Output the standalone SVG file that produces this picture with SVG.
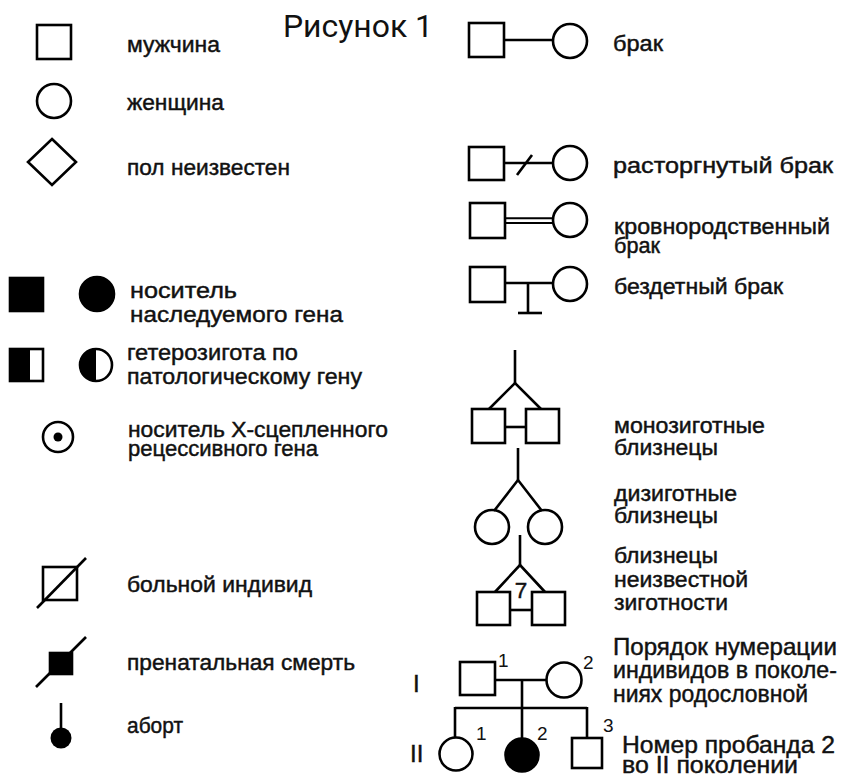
<svg xmlns="http://www.w3.org/2000/svg" width="841" height="777" viewBox="0 0 841 777">
<style>
.s{fill:none;stroke:#000;stroke-width:2.6}
.f{fill:#000;stroke:#000;stroke-width:2.6}
.l{stroke:#000;stroke-width:2.6;fill:none}
.t{font-family:"Liberation Sans",Arial,sans-serif;font-size:22.5px;fill:#111;stroke:#111;stroke-width:0.45}
.tb{font-family:"Liberation Sans",Arial,sans-serif;font-size:24px;fill:#111;stroke:#111;stroke-width:0.45}
.n{font-family:"Liberation Sans",Arial,sans-serif;font-size:19px;fill:#111}
.title{font-family:Roboto,"Noto Sans",sans-serif;font-size:31px;fill:#111}
</style>
<rect width="841" height="777" fill="#fff"/>
<text class="title" x="283" y="37" textLength="150" lengthAdjust="spacingAndGlyphs">Рисунок 1</text>

<g id="male"><rect class="s" x="37" y="25" width="34" height="34"/><text class="t" x="127" y="52" textLength="93" lengthAdjust="spacingAndGlyphs">мужчина</text></g>
<g id="female"><circle class="s" cx="54" cy="101" r="17"/><text class="t" x="127" y="110" textLength="97" lengthAdjust="spacingAndGlyphs">женщина</text></g>
<g id="unknown-sex"><polygon class="s" points="52,139 76,162 52,185 28,162"/><text class="t" x="127" y="175" textLength="163" lengthAdjust="spacingAndGlyphs">пол неизвестен</text></g>
<g id="carrier"><rect class="f" x="10" y="278" width="33" height="33"/><circle class="f" cx="97" cy="294" r="17"/><text class="t" x="130" y="298" textLength="107" lengthAdjust="spacingAndGlyphs">носитель</text><text class="t" x="130" y="322" textLength="213" lengthAdjust="spacingAndGlyphs">наследуемого гена</text></g>
<g id="heterozygote"><rect class="s" x="10" y="349" width="33" height="32"/><rect x="10" y="349" width="20" height="32" fill="#000"/><circle class="s" cx="96" cy="365" r="16"/><path d="M96,349 A16,16 0 0 0 96,381 Z" fill="#000"/><text class="t" x="127" y="360" textLength="171" lengthAdjust="spacingAndGlyphs">гетерозигота по</text><text class="t" x="127" y="384" textLength="235" lengthAdjust="spacingAndGlyphs">патологическому гену</text></g>
<g id="x-carrier"><circle class="s" cx="58" cy="437" r="15"/><circle cx="58" cy="437" r="4.5" fill="#000"/><text class="t" x="128" y="437" textLength="260" lengthAdjust="spacingAndGlyphs">носитель Х-сцепленного</text><text class="t" x="128" y="456" textLength="190" lengthAdjust="spacingAndGlyphs">рецессивного гена</text></g>
<g id="affected"><rect class="s" x="43" y="567" width="34" height="33"/><line class="l" x1="37" y1="608" x2="86" y2="558"/><text class="t" x="127" y="592" textLength="185" lengthAdjust="spacingAndGlyphs">больной индивид</text></g>
<g id="prenatal-death"><rect class="f" x="50" y="653" width="22" height="21"/><line class="l" x1="36" y1="687" x2="86" y2="637"/><text class="t" x="127" y="670" textLength="228" lengthAdjust="spacingAndGlyphs">пренатальная смерть</text></g>
<g id="abortion"><line class="l" x1="61" y1="703" x2="61" y2="730"/><circle cx="61" cy="738" r="10.5" fill="#000"/><text class="t" x="127" y="733" textLength="56" lengthAdjust="spacingAndGlyphs">аборт</text></g>

<g id="marriage"><rect class="s" x="469" y="23" width="35" height="34"/><line class="l" x1="504" y1="40" x2="553" y2="40"/><circle class="s" cx="570" cy="41" r="17"/><text class="t" x="613" y="51" textLength="50" lengthAdjust="spacingAndGlyphs">брак</text></g>
<g id="divorce"><rect class="s" x="469" y="147" width="35" height="33"/><line class="l" x1="504" y1="163" x2="553" y2="163"/><line class="l" x1="517" y1="175" x2="532" y2="155"/><circle class="s" cx="570" cy="163" r="17"/><text class="t" x="613" y="173" textLength="220" lengthAdjust="spacingAndGlyphs">расторгнутый брак</text></g>
<g id="consanguineous"><rect class="s" x="470" y="203" width="35" height="35"/><line x1="505" y1="218.3" x2="553" y2="218.3" stroke="#000" stroke-width="2"/><line x1="505" y1="222.9" x2="553" y2="222.9" stroke="#000" stroke-width="2"/><circle class="s" cx="570" cy="220" r="17"/><text class="t" x="614" y="234" textLength="216" lengthAdjust="spacingAndGlyphs">кровнородственный</text><text class="t" x="614" y="253" textLength="46" lengthAdjust="spacingAndGlyphs">брак</text></g>
<g id="childless"><rect class="s" x="470" y="267" width="35" height="35"/><line class="l" x1="505" y1="283" x2="553" y2="283"/><line class="l" x1="528" y1="283" x2="528" y2="313"/><line class="l" x1="518" y1="313" x2="542" y2="313"/><circle class="s" cx="570" cy="284" r="17"/><text class="t" x="614" y="294" textLength="169" lengthAdjust="spacingAndGlyphs">бездетный брак</text></g>

<g id="mz-twins"><line class="l" x1="515" y1="350" x2="515" y2="383"/><polyline class="l" points="489,409 515,383 541,409"/><rect class="s" x="472" y="409" width="33" height="34"/><rect class="s" x="526" y="409" width="33" height="34"/><line class="l" x1="505" y1="427" x2="526" y2="427"/><text class="t" x="614" y="433" textLength="151" lengthAdjust="spacingAndGlyphs">монозиготные</text><text class="t" x="614" y="455" textLength="104" lengthAdjust="spacingAndGlyphs">близнецы</text></g>
<g id="dz-twins"><line class="l" x1="518" y1="448" x2="518" y2="480"/><polyline class="l" points="494,511 518,480 542,511"/><circle class="s" cx="492" cy="527" r="17"/><circle class="s" cx="545" cy="527" r="17"/><text class="t" x="614" y="501" textLength="123" lengthAdjust="spacingAndGlyphs">дизиготные</text><text class="t" x="614" y="523" textLength="104" lengthAdjust="spacingAndGlyphs">близнецы</text></g>
<g id="unknown-twins"><line class="l" x1="520" y1="535" x2="520" y2="565"/><polyline class="l" points="495,592 520,565 545,592"/><rect class="s" x="477" y="592" width="33" height="33"/><rect class="s" x="532" y="592" width="33" height="33"/><line class="l" x1="510" y1="610" x2="532" y2="610"/><text class="t" x="521" y="598" text-anchor="middle">7</text><text class="t" x="614" y="563" textLength="104" lengthAdjust="spacingAndGlyphs">близнецы</text><text class="t" x="614" y="587" textLength="134" lengthAdjust="spacingAndGlyphs">неизвестной</text><text class="t" x="614" y="610" textLength="114" lengthAdjust="spacingAndGlyphs">зиготности</text></g>

<g id="connectors">
<line class="l" x1="495" y1="680" x2="546" y2="680"/>
<line class="l" x1="522" y1="680" x2="522" y2="708"/>
<line class="l" x1="455" y1="708" x2="587" y2="708"/>
<line class="l" x1="455" y1="707" x2="455" y2="737"/>
<line class="l" x1="522" y1="707" x2="522" y2="738"/>
<line class="l" x1="587" y1="707" x2="587" y2="738"/>
</g>
<g id="gen-I"><text class="tb" x="413" y="692">I</text></g>
<g id="gen-II"><text class="tb" x="410" y="762">II</text></g>
<g id="I-1"><rect class="s" x="460" y="662" width="35" height="33"/><text class="n" x="498" y="667">1</text></g>
<g id="I-2"><circle class="s" cx="564" cy="680" r="17.5"/><text class="n" x="583" y="669">2</text></g>
<g id="II-1"><circle class="s" cx="456" cy="754" r="16.5"/><text class="n" x="476" y="740">1</text></g>
<g id="II-2"><circle class="f" cx="522" cy="755" r="16.5"/><text class="n" x="537" y="740">2</text></g>
<g id="II-3"><rect class="s" x="572" y="738" width="30" height="30"/><text class="n" x="603" y="732">3</text></g>
<g id="numbering-note"><text class="tb" x="613" y="655" textLength="224" lengthAdjust="spacingAndGlyphs">Порядок нумерации</text><text class="tb" x="613" y="678" textLength="224" lengthAdjust="spacingAndGlyphs">индивидов в поколе-</text><text class="tb" x="613" y="702" textLength="195" lengthAdjust="spacingAndGlyphs">ниях родословной</text></g>
<g id="proband-note"><text class="tb" x="622" y="753" textLength="213" lengthAdjust="spacingAndGlyphs">Номер пробанда 2</text><text class="tb" x="622" y="773" textLength="176" lengthAdjust="spacingAndGlyphs">во II поколении</text></g>
</svg>
